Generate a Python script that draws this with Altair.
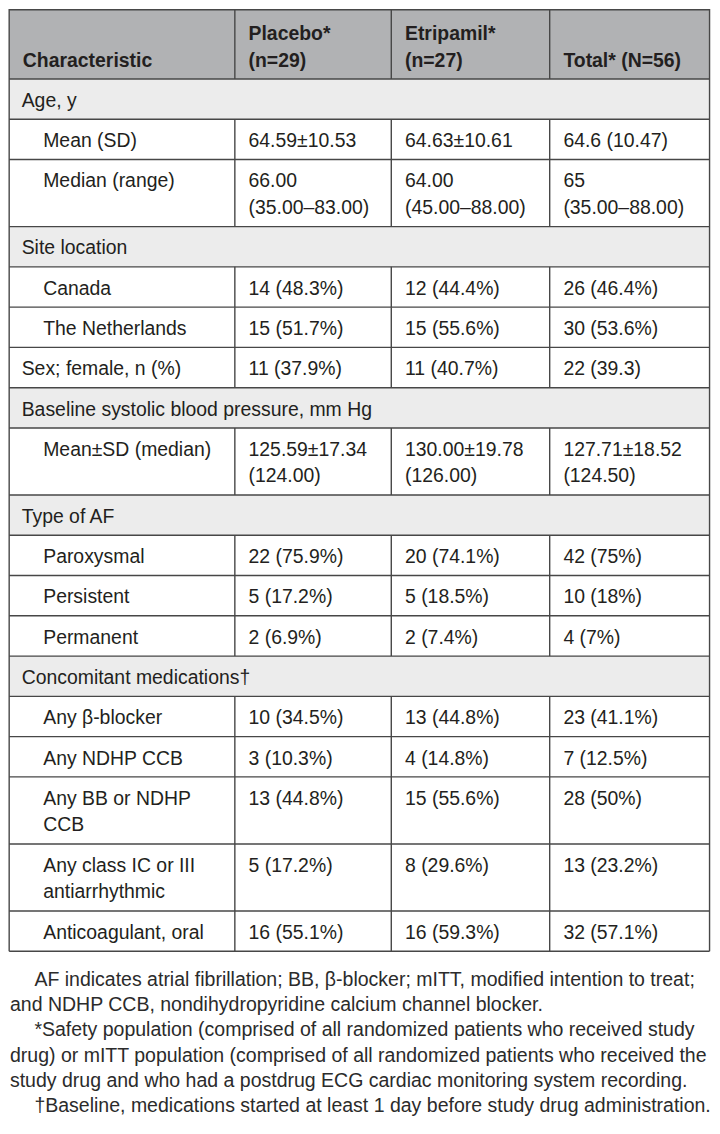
import altair as alt
import pandas as pd

# ---------------- data ----------------
header = ["Characteristic", "Placebo*\n(n=29)", "Etripamil*\n(n=27)", "Total* (N=56)"]

row_labels = [
    "Age, y", "Mean (SD)", "Median (range)", "Site location", "Canada",
    "The Netherlands", "Sex; female, n (%)", "Baseline systolic blood pressure, mm Hg",
    "Mean±SD (median)", "Type of AF", "Paroxysmal", "Persistent", "Permanent",
    "Concomitant medications†", "Any β-blocker", "Any NDHP CCB",
    "Any BB or NDHP\nCCB", "Any class IC or III\nantiarrhythmic", "Anticoagulant, oral",
]
row_kinds = [
    "section", "item", "item", "section", "item", "item", "main", "section",
    "item", "section", "item", "item", "item", "section", "item", "item",
    "item", "item", "item",
]
placebo = [
    "", "64.59±10.53", "66.00\n(35.00–83.00)", "", "14 (48.3%)", "15 (51.7%)",
    "11 (37.9%)", "", "125.59±17.34\n(124.00)", "", "22 (75.9%)", "5 (17.2%)",
    "2 (6.9%)", "", "10 (34.5%)", "3 (10.3%)", "13 (44.8%)", "5 (17.2%)", "16 (55.1%)",
]
etripamil = [
    "", "64.63±10.61", "64.00\n(45.00–88.00)", "", "12 (44.4%)", "15 (55.6%)",
    "11 (40.7%)", "", "130.00±19.78\n(126.00)", "", "20 (74.1%)", "5 (18.5%)",
    "2 (7.4%)", "", "13 (44.8%)", "4 (14.8%)", "15 (55.6%)", "8 (29.6%)", "16 (59.3%)",
]
total = [
    "", "64.6 (10.47)", "65\n(35.00–88.00)", "", "26 (46.4%)", "30 (53.6%)",
    "22 (39.3)", "", "127.71±18.52\n(124.50)", "", "42 (75%)", "10 (18%)",
    "4 (7%)", "", "23 (41.1%)", "7 (12.5%)", "28 (50%)", "\u00a013 (23.2%)", "32 (57.1%)",
]

footnote_lines = [
    "AF indicates atrial fibrillation; BB, β-blocker; mITT, modified intention to treat;",
    "and NDHP CCB, nondihydropyridine calcium channel blocker.",
    "*Safety population (comprised of all randomized patients who received study",
    "drug) or mITT population (comprised of all randomized patients who received the",
    "study drug and who had a postdrug ECG cardiac monitoring system recording.",
    "†Baseline, medications started at least 1 day before study drug administration.",
]
footnote_indent = [True, False, True, False, False, True]

# ---------------- layout (reference pixel units) ----------------
W_REF, H_REF = 720, 1134
col_edges = [1.2, 232, 392, 554, 717.5]
HEADER_H = 71
ROW1_H = 40.85
ROW2_H = 68
PAD = 14
ITEM_X = 36
LINE_DY = 26.6
FIRST_BASE = 28.3
HEAD_BASE = 59.3
HEAD_DY = 27.6
FOOT_X0 = 2
FOOT_INDENT = 25
FOOT_Y0 = 991
FOOT_DY = 25.6

HEADER_BG = "#b1b2b4"
SECTION_BG = "#ececec"
LINE_COLOR = "#474747"
TEXT_COLOR = "#231f20"

rects, rules, body_txt, head_txt, foot_txt = [], [], [], [], []

# header
rects.append(dict(x=col_edges[0], x2=col_edges[-1], y=0, y2=HEADER_H, fill=HEADER_BG))
for ci, h in enumerate(header):
    lines = h.split("\n")
    n = len(lines)
    for li, ln in enumerate(lines):
        head_txt.append(dict(x=col_edges[ci] + PAD, y=HEAD_BASE - (n - 1 - li) * HEAD_DY, text=ln))
for cx in col_edges[1:-1]:
    rules.append(dict(x=cx, x2=cx, y=0, y2=HEADER_H))
rules.append(dict(x=col_edges[0], x2=col_edges[-1], y=0.8, y2=0.8))
rules.append(dict(x=col_edges[0], x2=col_edges[-1], y=HEADER_H, y2=HEADER_H))

y0 = HEADER_H
for lab, kind, p, e, t in zip(row_labels, row_kinds, placebo, etripamil, total):
    cells = [lab, p, e, t]
    nlines = max(len(c.split("\n")) for c in cells)
    h = ROW1_H if nlines == 1 else ROW2_H
    y1 = y0 + h
    if kind == "section":
        rects.append(dict(x=col_edges[0], x2=col_edges[-1], y=y0, y2=y1, fill=SECTION_BG))
    else:
        for cx in col_edges[1:-1]:
            rules.append(dict(x=cx, x2=cx, y=y0, y2=y1))
    for ci, c in enumerate(cells):
        if not c:
            continue
        if ci == 0:
            bx = ITEM_X if kind == "item" else PAD
        else:
            bx = col_edges[ci] + PAD
        for li, ln in enumerate(c.split("\n")):
            body_txt.append(dict(x=bx, y=y0 + FIRST_BASE + li * LINE_DY, text=ln))
    rules.append(dict(x=col_edges[0], x2=col_edges[-1], y=y1, y2=y1))
    y0 = y1

# outer verticals
for cx in (col_edges[0], col_edges[-1]):
    rules.append(dict(x=cx, x2=cx, y=0, y2=y0))

for i, (ln, ind) in enumerate(zip(footnote_lines, footnote_indent)):
    foot_txt.append(dict(x=FOOT_X0 + (FOOT_INDENT if ind else 0), y=FOOT_Y0 + i * FOOT_DY, text=ln))

# ---------------- chart ----------------
xs = alt.Scale(domain=[0, W_REF], nice=False, zero=False)
ys = alt.Scale(domain=[0, H_REF], nice=False, zero=False, reverse=True)


def X(f="x"):
    return alt.X(f"{f}:Q", scale=xs, axis=None)


def Y(f="y"):
    return alt.Y(f"{f}:Q", scale=ys, axis=None)


rect_layer = alt.Chart(pd.DataFrame(rects)).mark_rect(strokeWidth=0).encode(
    x=X(), x2="x2:Q", y=Y(), y2="y2:Q", color=alt.Color("fill:N", scale=None)
)
rule_layer = alt.Chart(pd.DataFrame(rules)).mark_rule(
    color=LINE_COLOR, strokeWidth=1.4
).encode(x=X(), x2="x2:Q", y=Y(), y2="y2:Q")

FONT = "Liberation Sans"
head_layer = alt.Chart(pd.DataFrame(head_txt)).mark_text(
    align="left", baseline="alphabetic", font=FONT, fontSize=19.4,
    fontWeight="bold", color=TEXT_COLOR
).encode(x=X(), y=Y(), text="text:N")
body_layer = alt.Chart(pd.DataFrame(body_txt)).mark_text(
    align="left", baseline="alphabetic", font=FONT, fontSize=19.4, color=TEXT_COLOR
).encode(x=X(), y=Y(), text="text:N")
foot_layer = alt.Chart(pd.DataFrame(foot_txt)).mark_text(
    align="left", baseline="alphabetic", font=FONT, fontSize=19.5, color="#2b2b2b"
).encode(x=X(), y=Y(), text="text:N")

chart = (
    alt.layer(rect_layer, rule_layer, head_layer, body_layer, foot_layer)
    .properties(width=704, height=1118, padding=0, background="white")
    .configure_view(stroke=None)
)

chart.save("out.html", embed_options={"renderer": "svg", "actions": False})
